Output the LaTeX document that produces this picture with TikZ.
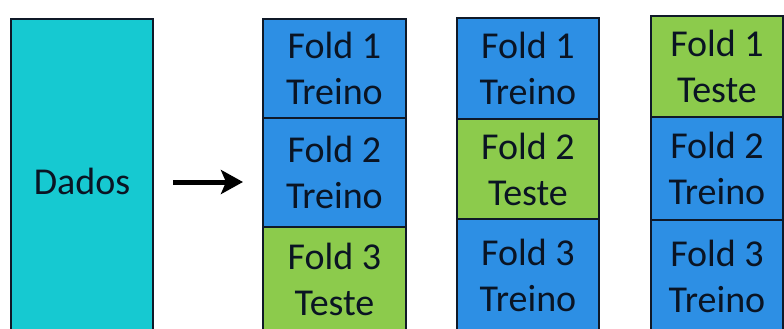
\documentclass[tikz,border=0pt]{standalone}
\usepackage{fontspec}
\setmainfont{Carlito}
\usetikzlibrary{arrows.meta}
\definecolor{dcyan}{RGB}{22,201,209}
\definecolor{dblue}{RGB}{45,143,228}
\definecolor{dgreen}{RGB}{140,203,76}
\definecolor{dline}{RGB}{15,25,40}
\definecolor{dtext}{RGB}{10,20,35}
\tikzset{
  cell/.style={draw=dline, line width=1.5pt, inner sep=0pt, align=center,
    text=dtext, font=\fontsize{38}{46}\selectfont},
  treino/.style={cell, fill=dblue},
  teste/.style={cell, fill=dgreen},
  arr/.style={line width=5pt, -{Stealth[length=22pt,width=24pt,inset=5pt]}, black}
}
\begin{document}
\begin{tikzpicture}[x=1pt,y=-1pt]
\useasboundingbox (0,0) rectangle (784,329);
\clip (0,0) rectangle (784,329);
\fill[white] (0,0) rectangle (784,329);
% Dados
\node[cell, fill=dcyan, minimum width=142pt, minimum height=324pt] (dados) at (82,181) {Dados};
% arrow
\coordinate (a1) at (173,182);
\coordinate (a2) at (243,182);
\draw[arr] (a1) -- (a2);
% column 1
\node[treino, minimum width=143pt, minimum height=99pt] (c1a) at (334.5,68.5) {Fold 1\\Treino};
\node[treino, minimum width=143pt, minimum height=109pt] (c1b) at (334.5,172.5) {Fold 2\\Treino};
\node[teste, minimum width=143pt, minimum height=104pt] (c1c) at (334.5,279) {Fold 3\\Teste};
% column 2
\node[treino, minimum width=142pt, minimum height=101pt] (c2a) at (528,68.5) {Fold 1\\Treino};
\node[teste, minimum width=142pt, minimum height=100pt] (c2b) at (528,169) {Fold 2\\Teste};
\node[treino, minimum width=142pt, minimum height=112pt] (c2c) at (528,275) {Fold 3\\Treino};
% column 3
\node[teste, minimum width=132pt, minimum height=101pt] (c3a) at (717,66.5) {Fold 1\\Teste};
\node[treino, minimum width=132pt, minimum height=103pt] (c3b) at (717,168.5) {Fold 2\\Treino};
\node[treino, minimum width=132pt, minimum height=112pt] (c3c) at (717,276) {Fold 3\\Treino};
\end{tikzpicture}
\end{document}
